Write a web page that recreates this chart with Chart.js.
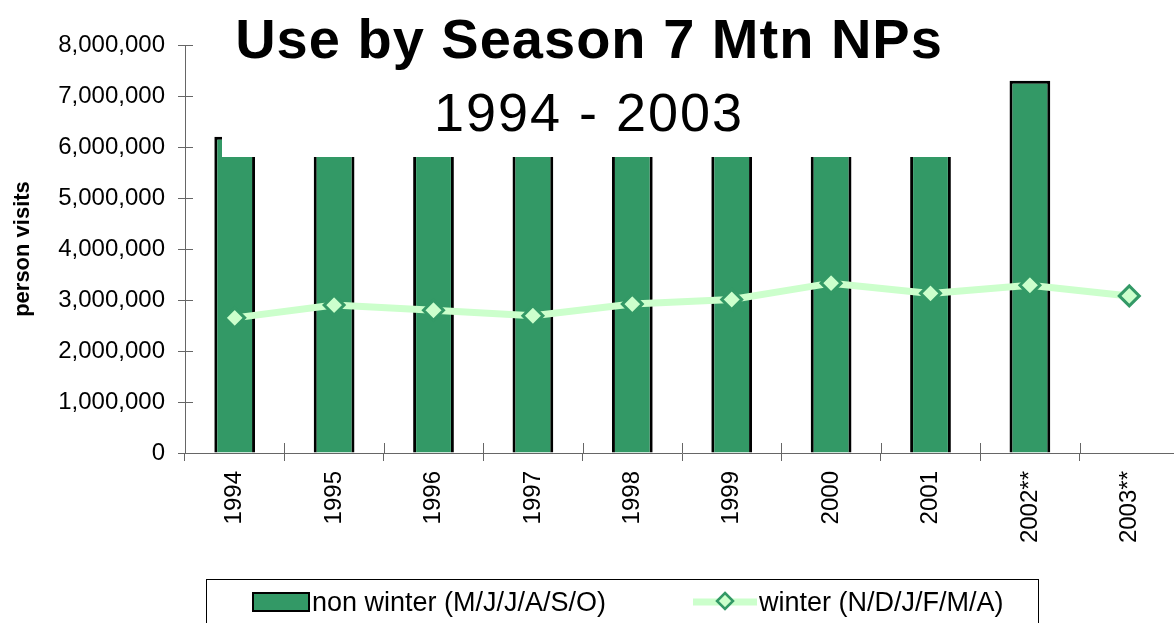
<!DOCTYPE html>
<html>
<head>
<meta charset="utf-8">
<script src="https://cdn.jsdelivr.net/npm/chart.js@4/dist/chart.umd.min.js"></script>
<style>
  html, body { margin: 0; padding: 0; background: #fff; overflow: hidden; }
  canvas { display: block; }
</style>
</head>
<body>
<canvas id="seasonChart" width="1192" height="623"></canvas>
<script>
const years = ['1994', '1995', '1996', '1997', '1998', '1999', '2000', '2001', '2002**', '2003**'];
// non winter bars: most tops are hidden behind the title box, so those are estimates
const nonWinter = [6200000, 6300000, 6400000, 6300000, 6500000, 6600000, 6900000, 6600000, 7300000, null];
const winter = [2650000, 2900000, 2800000, 2690000, 2920000, 3010000, 3330000, 3130000, 3290000, 3080000];
const yTicks = [0, 1000000, 2000000, 3000000, 4000000, 5000000, 6000000, 7000000, 8000000];
const titleLines = ['Use by Season 7 Mtn NPs', '1994 - 2003'];

const barGreen = '#339966';
const lineGreen = '#ccffcc';
const axisGray = '#666666';

// short tick marks that cross into the plot, plus the title box and the framed legend
const decorPlugin = {
  id: 'decor',
  afterDatasetsDraw(chart) {
    const ctx = chart.ctx;
    const area = chart.chartArea;
    const y = chart.scales.y;

    ctx.save();
    ctx.strokeStyle = axisGray;
    ctx.lineWidth = 1;
    ctx.beginPath();
    yTicks.forEach((v) => {
      const py = Math.round(y.getPixelForValue(v)) + 0.5;
      ctx.moveTo(area.left, py);
      ctx.lineTo(area.left + 8, py);
    });
    for (let i = 0; i <= years.length; i++) {
      const px = Math.round(area.left + (area.right - area.left) * i / years.length) + 0.5;
      ctx.moveTo(px, area.bottom);
      ctx.lineTo(px, area.bottom - 10);
    }
    ctx.stroke();

    // white title box over the tops of the bars
    ctx.fillStyle = '#ffffff';
    ctx.fillRect(222, 0, 786, 157);

    const cx = 589;
    ctx.fillStyle = '#000';
    ctx.textAlign = 'center';
    ctx.textBaseline = 'alphabetic';
    ctx.font = 'bold 56px "Liberation Sans", Arial, sans-serif';
    ctx.letterSpacing = '1px';
    ctx.fillText(titleLines[0], cx, 58);
    ctx.font = '54px "Liberation Sans", Arial, sans-serif';
    ctx.letterSpacing = '2px';
    ctx.fillText(titleLines[1], cx, 131);
    ctx.letterSpacing = '0px';

    // legend
    const barSet = chart.data.datasets[0];
    const lineSet = chart.data.datasets[1];
    ctx.strokeStyle = '#000';
    ctx.lineWidth = 1;
    ctx.strokeRect(206.5, 579.5, 832, 60);

    ctx.fillStyle = barSet.backgroundColor;
    ctx.fillRect(252, 592, 58, 20);
    ctx.lineWidth = 2;
    ctx.strokeRect(253, 593, 56, 18);

    ctx.strokeStyle = lineSet.borderColor;
    ctx.lineWidth = 7;
    ctx.beginPath();
    ctx.moveTo(693, 602);
    ctx.lineTo(757, 602);
    ctx.stroke();
    ctx.beginPath();
    ctx.moveTo(725, 593);
    ctx.lineTo(733, 601);
    ctx.lineTo(725, 609);
    ctx.lineTo(717, 601);
    ctx.closePath();
    ctx.fillStyle = lineSet.pointBackgroundColor;
    ctx.fill();
    ctx.strokeStyle = lineSet.pointBorderColor;
    ctx.lineWidth = 2.5;
    ctx.stroke();

    ctx.fillStyle = '#000';
    ctx.textAlign = 'left';
    ctx.textBaseline = 'middle';
    ctx.font = '27px "Liberation Sans", Arial, sans-serif';
    ctx.fillText(barSet.label, 312, 604);
    ctx.fillText(lineSet.label, 759, 604);
    ctx.restore();
  }
};

const chart = new Chart(document.getElementById('seasonChart'), {
  data: {
    labels: years,
    datasets: [
      {
        type: 'bar',
        label: 'non winter (M/J/J/A/S/O)',
        data: nonWinter,
        backgroundColor: barGreen,
        borderColor: '#000000',
        borderWidth: 3,
        barPercentage: 0.41,
        categoryPercentage: 1,
        order: 1
      },
      {
        type: 'line',
        label: 'winter (N/D/J/F/M/A)',
        data: winter,
        borderColor: lineGreen,
        borderWidth: 7,
        pointStyle: 'rectRot',
        pointRadius: 10,
        pointBorderWidth: 3,
        pointBackgroundColor: lineGreen,
        pointBorderColor: barGreen,
        tension: 0,
        order: 0
      }
    ]
  },
  options: {
    responsive: false,
    animation: false,
    layout: { padding: { top: 45, right: 12, bottom: 65, left: 0 } },
    plugins: {
      legend: { display: false },
      title: { display: false },
      tooltip: { enabled: false }
    },
    scales: {
      x: {
        offset: true,
        afterFit: (axis) => { axis.height = 105; },
        grid: {
          offset: true,
          drawOnChartArea: false,
          drawTicks: true,
          tickLength: 8,
          color: axisGray
        },
        border: { display: true, color: axisGray },
        ticks: {
          autoSkip: false,
          minRotation: 90,
          maxRotation: 90,
          padding: 10,
          color: '#000',
          font: { family: '"Liberation Sans", Arial, sans-serif', size: 24 }
        }
      },
      y: {
        min: 0,
        max: 8000000,
        afterFit: (axis) => { axis.width = 185; },
        afterBuildTicks: (axis) => { axis.ticks = yTicks.map((v) => ({ value: v })); },
        grid: {
          drawOnChartArea: false,
          drawTicks: true,
          tickLength: 7,
          color: axisGray
        },
        border: { display: true, color: axisGray },
        title: {
          display: true,
          text: 'person visits',
          color: '#000',
          padding: { top: 10, bottom: 0 },
          font: { family: '"Liberation Sans", Arial, sans-serif', size: 22, weight: 'bold' }
        },
        ticks: {
          padding: 13,
          color: '#000',
          font: { family: '"Liberation Sans", Arial, sans-serif', size: 24 },
          callback: (v) => Number(v).toLocaleString('en-US')
        }
      }
    }
  },
  plugins: [decorPlugin]
});
</script>
</body>
</html>
